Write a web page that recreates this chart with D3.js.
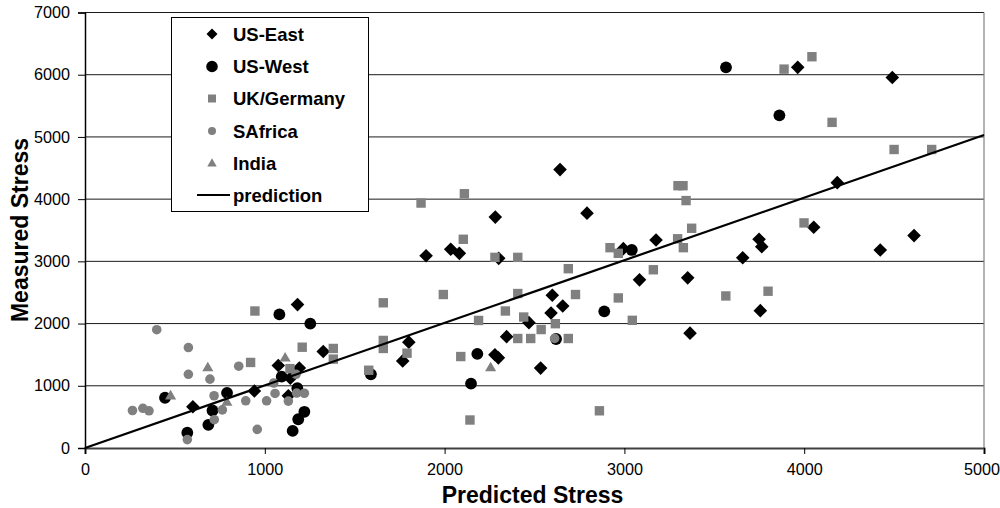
<!DOCTYPE html>
<html>
<head>
<meta charset="utf-8">
<script src="https://cdn.jsdelivr.net/npm/d3@7"></script>
<style>
html,body{margin:0;padding:0;background:#fff;}
svg{display:block;font-family:"Liberation Sans",Arial,sans-serif;}
</style>
</head>
<body>
<svg id="chart" width="1000" height="508"></svg>
<script>
// ---- data ----
const usEast = [
  [4490,5956],[3964,6118],[4184,4265],[4053,3549],[4611,3414],[4423,3183],[3749,3355],[3764,3236],
  [3658,3058],[3352,2735],[3365,1846],[3756,2208],[2642,4475],[2792,3775],[2282,3711],[3176,3344],
  [2994,3204],[3084,2703],[1897,3091],[2034,3194],[2082,3129],[2301,3048],[2657,2283],[2599,2455],
  [2592,2170],[2469,2015],[2345,1790],[2280,1498],[2299,1449],[2534,1284],[1801,1701],[1767,1400],
  [1325,1551],[1182,2305],[1075,1325],[1192,1287],[1142,1123],[1131,840],[942,915],[600,662]
];
const usWest = [
  [3565,6118],[3862,5347],[3041,3183],[2888,2197],[2620,1752],[2182,1514],[2147,1034],[1590,1185],
  [1253,1998],[1081,2147],[1094,1147],[1181,961],[1220,582],[1186,462],[1155,275],[790,885],
  [709,603],[686,372],[569,245],[445,808]
];
const ukGermany = [
  [3888,6090],[4043,6289],[4155,5234],[4500,4798],[4709,4798],[3298,4216],[3326,4216],[3343,3977],
  [3374,3532],[3296,3363],[3328,3220],[3999,3618],[2920,3220],[2966,3129],[3161,2865],[2966,2412],
  [3044,2052],[3564,2444],[3799,2520],[2861,598],[2688,2882],[2728,2467],[2110,4087],[1869,3937],
  [2104,3355],[2280,3064],[2407,3064],[1993,2467],[2407,2483],[2338,2202],[2189,2050],[2440,2105],
  [2616,1998],[2537,1904],[2407,1760],[2479,1760],[2688,1760],[2090,1470],[2141,450],[1659,2334],
  [1659,1729],[1659,1600],[1791,1524],[1578,1250],[1381,1600],[1381,1429],[1208,1620],[1140,1276],
  [921,1375],[945,2202]
];
const sAfrica = [
  [399,1901],[575,1615],[575,1185],[695,1107],[855,1315],[264,603],[322,638],[356,598],
  [718,840],[764,612],[719,455],[569,135],[894,759],[958,299],[1010,759],[1050,1045],
  [1057,877],[1131,754],[1174,1185],[1177,883],[1220,880],[2612,1762]
];
const india = [[476,845],[683,1297],[789,743],[1113,1454],[2256,1297]];
const prediction = [[0,0],[5000,5030]];

const xTicks = [0,1000,2000,3000,4000,5000];
const yTicks = [0,1000,2000,3000,4000,5000,6000,7000];
const seriesNames = ["US-East","US-West","UK/Germany","SAfrica","India","prediction"];
const xTitle = "Predicted Stress";
const yTitle = "Measured Stress";

// ---- layout ----
const svg = d3.select("#chart");
const L = 85, R = 984, T = 12.5, B = 448;
const x = d3.scaleLinear().domain([0,5000]).range([L,R]);
const y = d3.scaleLinear().domain([0,7000]).range([B,T]);

// gridlines
svg.append("g").selectAll("line").data(yTicks.filter(v=>v>0)).join("line")
  .attr("x1",L).attr("x2",R).attr("y1",d=>y(d)).attr("y2",d=>y(d))
  .attr("stroke","#1a1a1a").attr("stroke-width",1);

// right border
svg.append("line").attr("x1",R).attr("x2",R).attr("y1",T).attr("y2",B)
  .attr("stroke","#808080").attr("stroke-width",1.2);

// axes
const xAxis = d3.axisBottom(x).tickValues(xTicks).tickSize(6).tickPadding(9).tickFormat(d3.format("d"));
const gx = svg.append("g").attr("transform",`translate(0,${B})`).call(xAxis);
gx.select(".domain").attr("stroke","#404040").attr("stroke-width",2.2);
gx.selectAll(".tick line").attr("stroke","#000");
gx.selectAll("text").attr("font-size","16.2px").attr("fill","#000").attr("font-family","Liberation Sans, Arial, sans-serif");
gx.selectAll(".tick text").filter(d=>d===5000).attr("text-anchor","end").attr("dx","15.5");

const yAxis = d3.axisLeft(y).tickValues(yTicks).tickSize(7).tickPadding(8).tickFormat(d3.format("d"));
const gy = svg.append("g").attr("transform",`translate(${L},0)`).call(yAxis);
gy.select(".domain").attr("stroke","#000").attr("stroke-width",1.5);
gy.selectAll(".tick line").attr("stroke","#000");
gy.selectAll("text").attr("font-size","16.2px").attr("fill","#000").attr("font-family","Liberation Sans, Arial, sans-serif");

// marker shapes
const shapes = {
  diamond: s => `M0,${-s}L${s},0L0,${s}L${-s},0Z`,
  square: s => `M${-s},${-s}H${s}V${s}H${-s}Z`,
  circle: s => `M${s},0A${s},${s} 0 1,1 ${-s},0A${s},${s} 0 1,1 ${s},0Z`,
  triangle: s => `M0,${-s*1.05}L${s*1.05},${s*0.75}L${-s*1.05},${s*0.75}Z`
};
const series = [
  {name:seriesNames[0], data:usEast, shape:"diamond", size:6.8, color:"#000"},
  {name:seriesNames[1], data:usWest, shape:"circle", size:5.9, color:"#000"},
  {name:seriesNames[2], data:ukGermany, shape:"square", size:4.7, color:"#808080"},
  {name:seriesNames[3], data:sAfrica, shape:"circle", size:4.8, color:"#808080"},
  {name:seriesNames[4], data:india, shape:"triangle", size:5.3, color:"#808080"}
];
series.forEach(s=>{
  svg.append("g").selectAll("path").data(s.data).join("path")
    .attr("transform",d=>`translate(${x(d[0])},${y(d[1])})`)
    .attr("d",shapes[s.shape](s.size))
    .attr("fill",s.color);
});

// prediction line
const line = d3.line().x(d=>x(d[0])).y(d=>y(d[1]));
svg.append("path").datum(prediction).attr("d",line)
  .attr("fill","none").attr("stroke","#000").attr("stroke-width",2.2);

// axis titles
svg.append("text").attr("x",(x(0)+x(5000))/2 - 2).attr("y",503)
  .attr("text-anchor","middle").attr("font-size","23px").attr("font-weight","bold").text(xTitle);
svg.append("text").attr("transform","translate(28,230) rotate(-90)")
  .attr("text-anchor","middle").attr("font-size","23px").attr("font-weight","bold").text(yTitle);

// legend
const lg = svg.append("g");
lg.append("rect").attr("x",171.5).attr("y",17.5).attr("width",197).attr("height",194)
  .attr("fill","#fff").attr("stroke","#000").attr("stroke-width",1);
const legY = [34,66.5,98.5,131,163,195];
const legSizes = [5.5,5.8,4,4,4.5];
series.forEach((s,i)=>{
  lg.append("path").attr("transform",`translate(212,${legY[i]})`)
    .attr("d",shapes[s.shape](legSizes[i])).attr("fill",s.color);
});
lg.append("line").attr("x1",197).attr("x2",230).attr("y1",legY[5]).attr("y2",legY[5])
  .attr("stroke","#000").attr("stroke-width",2.2);
lg.selectAll("text").data(seriesNames).join("text")
  .attr("x",233).attr("y",(d,i)=>legY[i]+6.5)
  .attr("font-size","18.5px").attr("font-weight","bold").attr("fill","#000").text(d=>d);
</script>
</body>
</html>
